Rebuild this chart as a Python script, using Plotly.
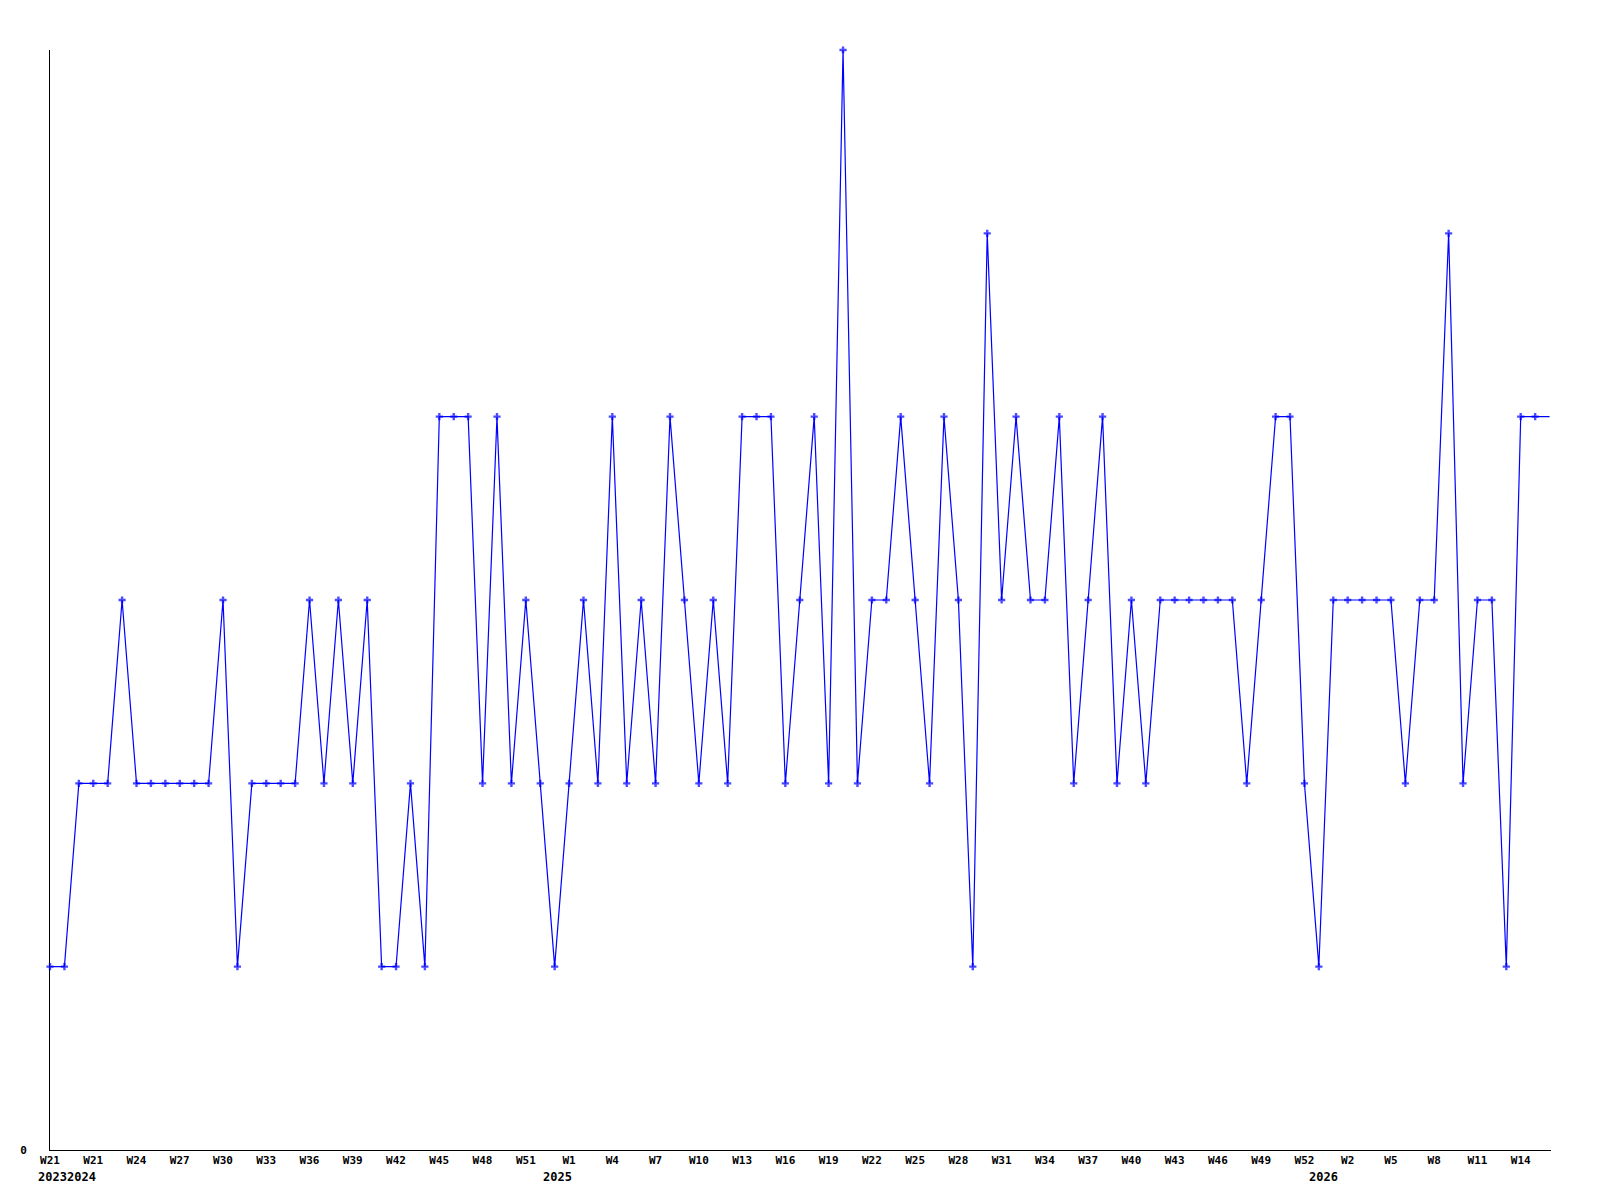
import plotly.graph_objects as go

# Weekly counts (first point 2023-W21, then 2024-W19 .. 2026-W15)
values = [1, 1, 2, 2, 2, 3, 2, 2, 2, 2, 2, 2, 3, 1, 2, 2, 2, 2, 3, 2,
          3, 2, 3, 1, 1, 2, 1, 4, 4, 4, 2, 4, 2, 3, 2, 1, 2, 3, 2, 4,
          2, 3, 2, 4, 3, 2, 3, 2, 4, 4, 4, 2, 3, 4, 2, 6, 2, 3, 3, 4,
          3, 2, 4, 3, 1, 5, 3, 4, 3, 3, 4, 2, 3, 4, 2, 3, 2, 3, 3, 3,
          3, 3, 3, 2, 3, 4, 4, 2, 1, 3, 3, 3, 3, 3, 2, 3, 3, 5, 2, 3,
          3, 1, 4, 4, 4]

tick_labels = ["W21", "W21", "W24", "W27", "W30", "W33", "W36", "W39", "W42",
               "W45", "W48", "W51", "W1", "W4", "W7", "W10", "W13", "W16",
               "W19", "W22", "W25", "W28", "W31", "W34", "W37", "W40", "W43",
               "W46", "W49", "W52", "W2", "W5", "W8", "W11", "W14"]

year_labels = ["2023", "2024", "2025", "2026"]
year_label_x = [0.2, 2.2, 35.2, 88.3]

x = list(range(len(values)))
tick_vals = list(range(0, 3 * len(tick_labels), 3))

marker_sizes = [6] * (len(values) - 1) + [0]

FONT = "DejaVu Sans Mono"

fig = go.Figure()
fig.add_trace(go.Scatter(
    x=x, y=values, mode="lines+markers",
    line=dict(color="#0000ff", width=1.2),
    marker=dict(symbol="cross", size=marker_sizes, color="#0000ff",
                line=dict(width=0)),
    cliponaxis=False, showlegend=False, hoverinfo="skip",
))

for txt, xp in zip(year_labels, year_label_x):
    fig.add_annotation(x=xp, y=0, xref="x", yref="paper", text="<b>%s</b>" % txt,
                       showarrow=False, yanchor="middle", xanchor="center",
                       yshift=-26.5, font=dict(family=FONT, size=12, color="black"))

fig.update_layout(
    width=1600, height=1200,
    margin=dict(l=42, r=57, t=42, b=58),
    paper_bgcolor="white", plot_bgcolor="white",
    xaxis=dict(
        range=[0, 104.1], showgrid=False, zeroline=False,
        showline=True, linecolor="black", linewidth=1, layer="below traces",
        tickmode="array", tickvals=tick_vals,
        ticktext=["<b>%s</b>" % t for t in tick_labels],
        ticks="", tickfont=dict(family=FONT, size=11, color="black"),
    ),
    yaxis=dict(
        range=[0, 6], showgrid=False, zeroline=False,
        showline=True, linecolor="black", linewidth=1, layer="below traces",
        tickmode="array", tickvals=[0], ticktext=["<b>0</b>"],
        ticks="", ticklabelstandoff=20,
        tickfont=dict(family=FONT, size=11, color="black"),
    ),
)

fig.write_html("out.html")
